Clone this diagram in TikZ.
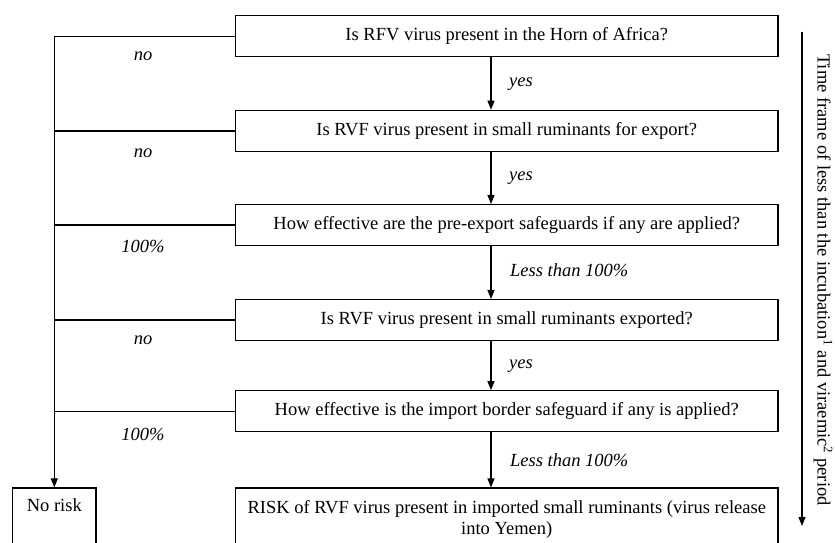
\documentclass[tikz,border=0pt]{standalone}
\usepackage{fontspec}
\setmainfont{Liberation Serif}
\usetikzlibrary{arrows.meta}
\begin{document}
\begin{tikzpicture}[x=1pt,y=-1pt,
  every node/.style={font=\fontsize{18.5}{21}\selectfont},
  qbox/.style={draw, line width=1.1pt, minimum width=542.5pt, inner sep=0pt, align=center},
  lbl/.style={font=\fontsize{18.5}{21}\selectfont\itshape, inner sep=0pt},
  conn/.style={line width=1.1pt},
  arr/.style={line width=1.1pt, -{Triangle[length=9pt,width=7pt]}}]
\useasboundingbox (0,0) rectangle (835,543);
% question boxes
\node[qbox, minimum height=41.5pt] (b1) at (506.75,36.2) {Is RFV virus present in the Horn of Africa?};
\node[qbox, minimum height=41.5pt] (b2) at (506.75,131) {Is RVF virus present in small ruminants for export?};
\node[qbox, minimum height=41pt] (b3) at (506.75,225) {How effective are the pre-export safeguards if any are applied?};
\node[qbox, minimum height=41pt] (b4) at (506.75,320) {Is RVF virus present in small ruminants exported?};
\node[qbox, minimum height=41pt] (b5) at (506.75,411.2) {How effective is the import border safeguard if any is applied?};
\node[qbox, minimum height=62pt] (risk) at (506.75,519) {RISK of RVF virus present in imported small ruminants (virus release\\into Yemen)};
\node[draw, line width=1.1pt, minimum width=83.3pt, minimum height=62pt, inner sep=0pt, align=center] (nr) at (54.3,519) {No risk\\\strut};
% spine to "No risk"
\draw[arr] (b1.west) -| (nr.north);
\draw[conn] (b2.west) -- (b2.west -| nr.north);
\draw[conn] (b3.west) -- (b3.west -| nr.north);
\draw[conn] (b4.west) -- (b4.west -| nr.north);
\draw[conn] (b5.west) -- (b5.west -| nr.north);
% central arrows
\coordinate (ax) at (491,0);
\draw[arr] (b1.south -| ax) -- (b2.north -| ax);
\draw[arr] (b2.south -| ax) -- (b3.north -| ax);
\draw[arr] (b3.south -| ax) -- (b4.north -| ax);
\draw[arr] (b4.south -| ax) -- (b5.north -| ax);
\draw[arr] (b5.south -| ax) -- (risk.north -| ax);
% labels on central arrows
\node[lbl, anchor=west] (y1) at (509,84) {yes};
\node[lbl, anchor=west] (y2) at (509,178) {yes};
\node[lbl, anchor=west] (l1) at (510,270) {Less than 100\%};
\node[lbl, anchor=west] (y3) at (509,366) {yes};
\node[lbl, anchor=west] (l2) at (510,460) {Less than 100\%};
% labels on left branches
\node[lbl] (n1) at (143,56) {no};
\node[lbl] (n2) at (143,153) {no};
\node[lbl] (p1) at (143,246) {100\%};
\node[lbl] (n3) at (143,340) {no};
\node[lbl] (p2) at (143,434) {100\%};
% time frame arrow
\coordinate (ts) at (802,32);
\coordinate (te) at (802,526);
\draw[arr] (ts) -- (te);
\node[rotate=-90, inner sep=0pt] (tf) at (823,280) {Time frame of less than the incubation\textsuperscript{1} and viraemic\textsuperscript{2} period};
\end{tikzpicture}
\end{document}
